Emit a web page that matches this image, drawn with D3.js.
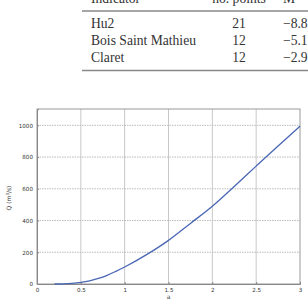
<!DOCTYPE html>
<html>
<script src="https://d3js.org/d3.v7.min.js"></script>

<head>
    <style>
        body {
            margin: 0;
            background-color: #fff;
            overflow: hidden;
        }

        svg {
            display: block;
        }

        .tbl text {
            font-family: "Liberation Serif", "Times New Roman", serif;
            font-size: 13.6px;
            fill: #333;
        }
    </style>
</head>

<body>
</body>
<script>
    const width = 308,
        height = 302;
    const svg = d3.select("body").append("svg").attr("width", width).attr("height", height);

    // table fragment above the figure
    const headers = ["Indicator", "no. points", "M"];
    const indicators = ["Hu2", "Bois Saint Mathieu", "Claret"];
    const nPoints = [21, 12, 12];
    const mValues = ["\u22128.8", "\u22125.1", "\u22122.9"];

    // rating curve Q(a)
    const aValues = [0.2, 0.3, 0.4, 0.5, 0.6, 0.7, 0.8, 0.9, 1.0, 1.25, 1.5, 1.75, 2.0, 2.25, 2.5, 2.75, 3.0];
    const qValues = [0, 1, 4, 10, 20, 35, 55, 80, 107, 185, 275, 382, 490, 615, 743, 870, 995];
    const xTicks = [0, 0.5, 1, 1.5, 2, 2.5, 3];
    const yTicks = [0, 200, 400, 600, 800, 1000];

    function drawTable() {
        const g = svg.append("g").attr("class", "tbl");
        const colX = [91, 239, 283];
        const rowY = d3.scaleLinear().domain([0, 1]).range([27.5, 44.5]);

        g.selectAll("text.head")
            .data(headers)
            .enter()
            .append("text")
            .attr("class", "head")
            .attr("x", (d, i) => colX[i])
            .attr("y", 2.5)
            .attr("text-anchor", (d, i) => i == 1 ? "middle" : "start")
            .text(d => d);

        g.append("line")
            .attr("x1", 82).attr("x2", width)
            .attr("y1", 11).attr("y2", 11)
            .attr("stroke", "#888").attr("stroke-width", 1.5);
        g.append("line")
            .attr("x1", 82).attr("x2", width)
            .attr("y1", 70.5).attr("y2", 70.5)
            .attr("stroke", "#888").attr("stroke-width", 1.5);

        indicators.forEach((name, i) => {
            g.append("text").attr("x", colX[0]).attr("y", rowY(i)).text(name);
            g.append("text").attr("x", colX[1]).attr("y", rowY(i))
                .attr("text-anchor", "middle").text(nPoints[i]);
            g.append("text").attr("x", colX[2]).attr("y", rowY(i)).text(mValues[i]);
        });
    }

    function drawChart() {
        const left = 37, right = 300, top = 109, bottom = 284;
        const x = d3.scaleLinear().domain([0, 3]).range([left, right]);
        const y = d3.scaleLinear().domain([0, 1103]).range([bottom, top]);

        const g = svg.append("g")
            .attr("font-family", "'DejaVu Sans', Arial, sans-serif")
            .attr("fill", "#333");

        // grid
        g.selectAll("line.vgrid")
            .data(xTicks.filter(d => d > 0 && d < 3))
            .enter()
            .append("line")
            .attr("x1", d => x(d)).attr("x2", d => x(d))
            .attr("y1", top).attr("y2", bottom)
            .attr("stroke", "#c8c8c8").attr("stroke-width", 1);
        g.selectAll("line.hgrid")
            .data(yTicks.filter(d => d > 0))
            .enter()
            .append("line")
            .attr("x1", left).attr("x2", right)
            .attr("y1", d => y(d)).attr("y2", d => y(d))
            .attr("stroke", "#bbb").attr("stroke-width", 1)
            .attr("stroke-dasharray", "1.5,1");

        // frame
        g.append("rect")
            .attr("x", left).attr("y", top)
            .attr("width", right - left).attr("height", bottom - top)
            .attr("fill", "none").attr("stroke", "#999").attr("stroke-width", 1);

        const xAxis = g.append("g")
            .attr("transform", `translate(0,${bottom})`)
            .call(d3.axisBottom(x).tickValues(xTicks).tickSize(-2).tickPadding(4).tickFormat(d3.format("")));
        const yAxis = g.append("g")
            .attr("transform", `translate(${left},0)`)
            .call(d3.axisLeft(y).tickValues(yTicks).tickSize(-2).tickPadding(4).tickFormat(d3.format("d")));
        [xAxis, yAxis].forEach(ax => {
            ax.select(".domain").attr("stroke", "#888");
            ax.selectAll(".tick line").attr("stroke", "#888");
            ax.selectAll("text")
                .attr("font-size", 5.6)
                .attr("font-family", "'DejaVu Sans', Arial, sans-serif")
                .attr("fill", "#333");
        });

        // curve
        g.append("path")
            .datum(aValues.map((a, i) => [a, qValues[i]]))
            .attr("fill", "none")
            .attr("stroke", "#4a67b5")
            .attr("stroke-width", 1.3)
            .attr("d", d3.line().x(d => x(d[0])).y(d => y(d[1])).curve(d3.curveMonotoneX));

        // axis labels
        g.append("text")
            .attr("x", x(1.5))
            .attr("y", 299)
            .attr("text-anchor", "middle")
            .attr("font-size", 6)
            .text("a");
        const yl = g.append("text")
            .attr("transform", "translate(11,198) rotate(-90)")
            .attr("text-anchor", "middle")
            .attr("font-size", 6);
        yl.append("tspan").text("Q (m");
        yl.append("tspan").attr("font-size", 4).attr("dy", -2.5).text("3");
        yl.append("tspan").attr("dy", 2.5).text("/s)");
    }

    drawTable();
    drawChart();
</script>

</html>
